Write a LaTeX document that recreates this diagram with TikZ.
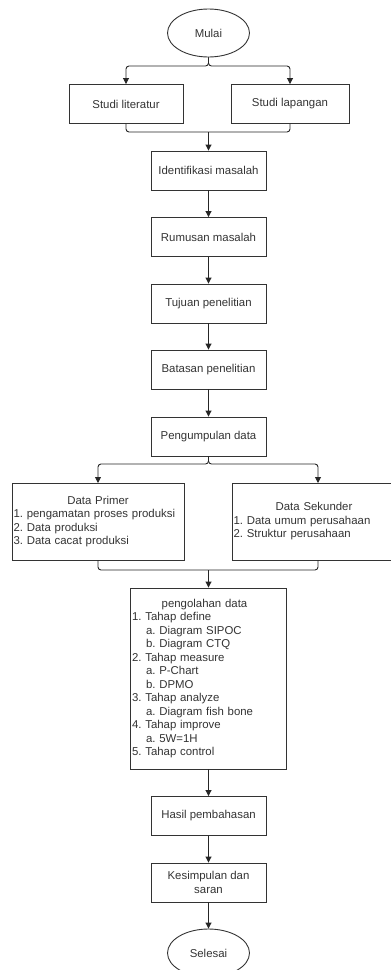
\documentclass[tikz,border=0pt]{standalone}
\usepackage{fontspec}
\setmainfont{Liberation Sans}
\usetikzlibrary{arrows.meta,shapes.geometric}
\frenchspacing
\begin{document}
\begin{tikzpicture}[x=1pt,y=-1pt,
  every node/.style={font=\fontsize{11.4}{13.5}\selectfont\frenchspacing, text=black!80},
  box/.style={draw=black!80, line width=0.9pt, minimum height=39pt, minimum width=115pt, inner sep=0pt, align=center},
  listbox/.style={draw=black!80, line width=0.9pt, inner sep=0pt, align=left},
  oval/.style={draw=black!80, line width=0.9pt, ellipse, minimum width=82pt, minimum height=48pt, inner sep=0pt},
  arr/.style={draw=black!85, line width=0.9pt, rounded corners=3pt, -{Triangle[length=6pt,width=6pt]}},
  ln/.style={draw=black!85, line width=0.9pt, rounded corners=3pt}
]
\useasboundingbox (0,0) rectangle (391,970);

\node[oval] (mulai) at (208.5,33) {Mulai};
\node[box, minimum width=114pt] (lit) at (126,104) {Studi literatur};
\node[box, minimum width=118pt] (lap) at (290,104) {Studi lapangan};
\node[box] (ident) at (208.5,170.5) {Identifikasi masalah};
\node[box] (rumus) at (208.5,237) {Rumusan masalah};
\node[box] (tujuan) at (208.5,303.5) {Tujuan penelitian};
\node[box] (batas) at (208.5,369.5) {Batasan penelitian};
\node[box] (kumpul) at (208.5,436.5) {Pengumpulan data};
\node[listbox, minimum width=172pt, minimum height=77pt, text width=169pt] (primer) at (98,521.5)
  {\makebox[\linewidth]{Data Primer}\\1. pengamatan proses produksi\\2. Data produksi\\3. Data cacat produksi};
\node[listbox, minimum width=164pt, minimum height=77pt, text width=161pt] (sekunder) at (314,521.5)
  {\makebox[\linewidth]{Data Sekunder}\\1. Data umum perusahaan\\2. Struktur perusahaan};
\node[listbox, minimum width=156pt, minimum height=181pt, text width=153pt] (olah) at (208.5,678.5)
  {\makebox[\linewidth]{pengolahan data\hspace*{8pt}}\\
   1. Tahap define\\
   \hspace*{14pt}a. Diagram SIPOC\\
   \hspace*{14pt}b. Diagram CTQ\\
   2. Tahap measure\\
   \hspace*{14pt}a. P-Chart\\
   \hspace*{14pt}b. DPMO\\
   3. Tahap analyze\\
   \hspace*{14pt}a. Diagram fish bone\\
   4. Tahap improve\\
   \hspace*{14pt}a. 5W=1H\\
   5. Tahap control};
\node[box] (hasil) at (208.5,816) {Hasil pembahasan};
\node[box] (simpul) at (208.5,882.5) {Kesimpulan dan\\saran};
\node[oval] (selesai) at (208.5,953) {Selesai};

% split after Mulai
\coordinate (s1) at (208.5,66);
\draw[arr] (mulai.south) -- (s1) -| (lit.north);
\draw[arr] (mulai.south) -- (s1) -| (lap.north);
% merge to Identifikasi
\coordinate (m1) at (208.5,132);
\draw[ln] (lit.south) |- (m1);
\draw[ln] (lap.south) |- (m1);
\draw[arr] (m1) -- (ident.north);

\draw[arr] (ident) -- (rumus);
\draw[arr] (rumus) -- (tujuan);
\draw[arr] (tujuan) -- (batas);
\draw[arr] (batas) -- (kumpul);

% split after Pengumpulan
\coordinate (s2) at (208.5,464);
\coordinate (pin) at (98,483);
\coordinate (sin) at (318,483);
\draw[arr] (kumpul.south) -- (s2) -| (pin);
\draw[arr] (kumpul.south) -- (s2) -| (sin);
% merge to pengolahan
\coordinate (pout) at (98,560);
\coordinate (sout) at (318,560);
\coordinate (m2) at (208.5,570);
\draw[ln] (pout) |- (m2);
\draw[ln] (sout) |- (m2);
\draw[arr] (m2) -- (olah.north);

\draw[arr] (olah.south) -- (hasil.north);
\draw[arr] (hasil) -- (simpul);
\draw[arr] (simpul) -- (selesai);
\end{tikzpicture}
\end{document}
